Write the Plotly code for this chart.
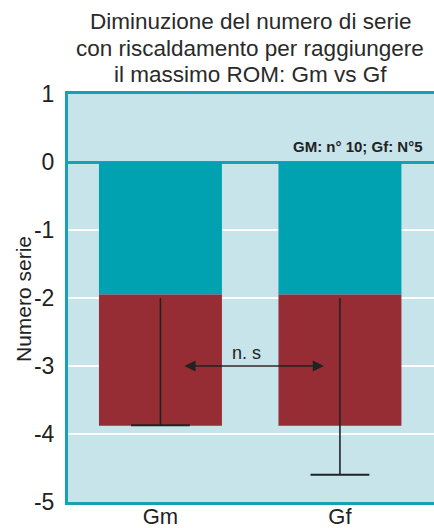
import plotly.graph_objects as go

categories = ["Gm", "Gf"]
teal_part = [-1.95, -1.95]
bar_total = [-3.88, -3.88]
red_part = [t - a for t, a in zip(bar_total, teal_part)]
err_top = [-2.0, -2.0]
err_bottom = [-3.87, -4.6]
y_ticks = [1, 0, -1, -2, -3, -4, -5]
title_lines = ["Diminuzione del numero di serie",
               "con riscaldamento per raggiungere",
               "il massimo ROM: Gm vs Gf"]
note_text = "GM: n° 10; Gf: N°5"
sig_text = "n. s"

TEAL = "#00a1b1"
RED = "#972d34"
BG = "#c6e4ea"
FRAME = "#16a2b2"
DARK = "#222222"
FONT = "Liberation Sans"

W, H = 434, 528
L, T, B = 68, 94, 26
PW, PH = W - L, H - T - B


def px_to_paper_x(px):
    return (px - L) / PW


def px_to_paper_y(py):
    return (T + PH - py) / PH


fig = go.Figure()
fig.add_trace(go.Bar(x=categories, y=teal_part, marker=dict(color=TEAL, line=dict(width=0)),
                     width=0.685, showlegend=False, hoverinfo="skip"))
fig.add_trace(go.Bar(x=categories, y=red_part, marker=dict(color=RED, line=dict(width=0)),
                     width=0.685, showlegend=False, hoverinfo="skip"))

xs, ys = [], []
for c, t, b in zip(categories, err_top, err_bottom):
    xs += [c, c, None]
    ys += [t, b, None]
fig.add_trace(go.Scatter(x=xs, y=ys, mode="lines", line=dict(color=DARK, width=1.6),
                         showlegend=False, hoverinfo="skip"))
fig.add_trace(go.Scatter(x=categories, y=err_bottom, mode="markers",
                         marker=dict(symbol="line-ew", size=42, color=DARK,
                                     line=dict(color=DARK, width=2)),
                         showlegend=False, hoverinfo="skip"))

fig.update_layout(
    width=W, height=H,
    margin=dict(l=L, r=0, t=T, b=B),
    paper_bgcolor="white", plot_bgcolor=BG,
    barmode="relative",
    font=dict(family=FONT, color=DARK),
    xaxis=dict(type="category", range=[-0.515, 1.524], showgrid=False, automargin=False,
               showline=True, mirror=True, linecolor=FRAME, linewidth=3,
               ticks="", ticklabelstandoff=-7,
               tickfont=dict(size=22, color=DARK, family=FONT)),
    yaxis=dict(range=[-5, 1], tickvals=y_ticks, ticktext=[str(v) for v in y_ticks],
               showgrid=True, gridcolor="white", gridwidth=1.5, automargin=False,
               zeroline=True, zerolinecolor=FRAME, zerolinewidth=2.5,
               showline=True, linecolor=FRAME, linewidth=3,
               ticks="", ticklabelstandoff=6,
               tickfont=dict(size=23, color=DARK, family=FONT)),
)

for line, cy in zip(title_lines, [22, 48.5, 75]):
    fig.add_annotation(text=line, xref="paper", yref="paper",
                       x=px_to_paper_x(250), y=px_to_paper_y(cy),
                       xanchor="center", yanchor="middle", showarrow=False,
                       font=dict(size=22.5, color="#2a2a2a", family=FONT))

fig.add_annotation(text="Numero serie", textangle=-90, xref="paper", yref="paper",
                   x=px_to_paper_x(23), y=px_to_paper_y(299),
                   xanchor="center", yanchor="middle", showarrow=False,
                   font=dict(size=21, color=DARK, family=FONT))
fig.add_annotation(text=note_text, xref="paper", yref="y", x=px_to_paper_x(425), y=0.235,
                   xanchor="right", yanchor="middle", showarrow=False,
                   font=dict(size=15, color=DARK, family=FONT, weight="bold"))
fig.add_annotation(text="", x=0.911, y=-3, ax=0.125, ay=-3, xref="x", yref="y",
                   axref="x", ayref="y", showarrow=True, arrowhead=2, startarrowhead=2,
                   arrowside="end+start", arrowsize=1.4, startarrowsize=1.4,
                   arrowwidth=1.6, arrowcolor=DARK)
fig.add_annotation(text=sig_text, x=0.482, y=-3, xref="x", yref="y", xanchor="center",
                   yanchor="bottom", yshift=1, showarrow=False,
                   font=dict(size=18, color=DARK, family=FONT))

# remove the browser's default 8px body margin so the 434x528 figure fills the window
fig.write_html("out.html", config={"displayModeBar": False},
               post_script="document.body.style.margin='0';")
